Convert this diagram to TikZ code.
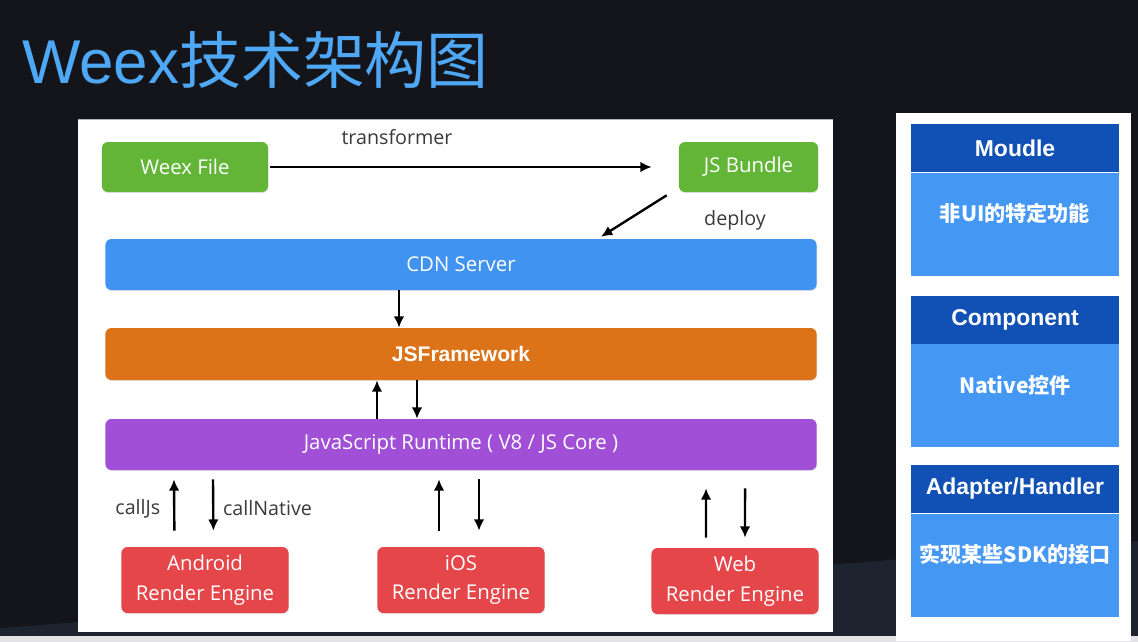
\documentclass[tikz,border=0pt]{standalone}
\usepackage{fontspec}
\setmainfont{Open Sans}
\newfontfamily\arialfont{Liberation Sans}
\newfontfamily\cjkfont{Noto Sans CJK SC}
\usepackage{tikz}
\usetikzlibrary{positioning,shadows,arrows.meta}

\definecolor{bgdark}{HTML}{13151A}
\definecolor{bglight}{HTML}{1E2330}
\definecolor{stripgray}{HTML}{E4E4E4}
\definecolor{titleblue}{HTML}{4FA8F5}
\definecolor{weexgreen}{HTML}{62B536}
\definecolor{cdnblue}{HTML}{4193F2}
\definecolor{jsforange}{HTML}{DC7318}
\definecolor{rtpurple}{HTML}{A24FD8}
\definecolor{engred}{HTML}{E4464A}
\definecolor{hdrblue}{HTML}{1150B4}
\definecolor{bodyblue}{HTML}{4597F4}
\definecolor{labelgray}{HTML}{3A3A3A}

\begin{document}
\begin{tikzpicture}[x=0.025cm, y=-0.025cm,
    box/.style={rectangle, rounded corners=0.8ex, text=white, font=\fontsize{14.5}{17}\selectfont,
                drop shadow={opacity=0.2, shadow xshift=0.3pt, shadow yshift=-0.8pt}},
    bar/.style={box, minimum width=17.775cm, minimum height=1.275cm},
    engine/.style={box, fill=engred, minimum width=4.175cm, minimum height=1.65cm, align=center,
                   font=\fontsize{14.5}{21}\selectfont},
    lbl/.style={text=labelgray, font=\fontsize{14}{16}\selectfont},
    arr/.style={-{Latex[length=8pt,width=7.5pt]}, line width=1.7pt},
    head/.style={rectangle, fill=hdrblue, text=white, minimum width=5.2cm, minimum height=1.2cm,
                 font=\arialfont\bfseries\fontsize{16.3}{19}\selectfont},
    body/.style={rectangle, fill=bodyblue, text=white, minimum width=5.2cm, inner ysep=0pt,
                 text height=1.225cm, text depth=1.35cm, font=\cjkfont\bfseries\fontsize{15}{18}\selectfont}]

    % backdrop
    \useasboundingbox (0,0) rectangle (1138,641);
    \fill[bgdark] (0,0) rectangle (1138,641);
    \fill[bglight] (0,628) -- (890,560) -- (1138,541) -- (1138,641) -- (0,641) -- cycle;
    \fill[stripgray] (0,636) rectangle (1138,641);
    \fill[white] (78,119) rectangle (833,632);
    \draw[gray!60, thin] (78,119) -- (833,119);
    \fill[white] (896,113) rectangle (1131,641);

    \node[anchor=base west, inner sep=0, text=titleblue, font=\fontsize{44}{50}\selectfont] (title) at (22,83)
        {{\arialfont Weex}{\cjkfont 技术架构图}};

    % left diagram
    \node[box, fill=weexgreen, minimum width=4.15cm, minimum height=1.25cm] (weex) at (185,167) {Weex File};
    \node[box, fill=weexgreen, minimum width=3.475cm, minimum height=1.25cm] (bundle) at (748.5,167) {JS Bundle};
    \node[bar, fill=cdnblue] (cdn) at (461,264.5) {CDN Server};
    \node[bar, fill=jsforange, minimum height=1.3cm, font=\arialfont\bfseries\fontsize{15}{18}\selectfont] (jsf) at (461,354) {JSFramework};
    \node[bar, fill=rtpurple] (runtime) at (461,444.5) {JavaScript Runtime ( V8 / JS Core )};

    \node[engine] (android) at (205,580) {Android\\Render Engine};
    \node[engine] (ios) at (461,580) {iOS\\Render Engine};
    \node[engine] (web) at (735,581) {Web\\Render Engine};

    \node[lbl] (trlabel) at (397,137) {transformer};
    \node[lbl] (deplabel) at (735,220) {deploy};

    \draw[arr, shorten <=0.05cm, shorten >=0.675cm] (weex) -- (bundle);
    \draw[arr] ([xshift=-0.3cm, yshift=-0.075cm]bundle.south west) -- ([xshift=3.5cm, yshift=0.05cm]cdn.north);
    \draw[arr] ([xshift=-1.55cm]cdn.south) -- ([xshift=-1.55cm]jsf.north);
    \draw[arr] ([xshift=-2.1cm]runtime.north) -- ([xshift=-2.1cm]jsf.south);
    \draw[arr] ([xshift=-1.1cm]jsf.south) -- ([xshift=-1.1cm]runtime.north);

    % render engines <-> runtime
    \draw[arr, shorten <=0.4cm, shorten >=0.225cm] ([xshift=-0.7625cm]android.north) -- ([xshift=-7.175cm]runtime.south)
        node[lbl, midway, left=0.2cm] {callJs};
    \draw[arr, shorten <=0.225cm, shorten >=0.4cm] ([xshift=-6.2cm]runtime.south) -- ([xshift=0.2125cm]android.north)
        node[lbl, midway, right=0.1cm] {callNative};
    \draw[arr, shorten <=0.4cm, shorten >=0.225cm] ([xshift=-0.55cm]ios.north) -- ([xshift=-0.55cm]runtime.south);
    \draw[arr, shorten <=0.225cm, shorten >=0.4cm] ([xshift=0.45cm]runtime.south) -- ([xshift=0.45cm]ios.north);
    \draw[arr, shorten <=0.25cm, shorten >=0.45cm] ([xshift=-0.725cm]web.north) -- ([xshift=6.125cm]runtime.south);
    \draw[arr, shorten <=0.45cm, shorten >=0.25cm] ([xshift=7.1cm]runtime.south) -- ([xshift=0.25cm]web.north);

    % right panel
    \node[head] (modhead) at (1015,148) {Moudle};
    \node[body, below=0pt of modhead] (modbody) {非UI的特定功能};
    \node[head] (comphead) at (1015,319.5) {Component};
    \node[body, below=0pt of comphead] (compbody) {Native控件};
    \node[head] (adahead) at (1015,489) {Adapter/Handler};
    \node[body, below=0pt of adahead] (adabody) {实现某些SDK的接口};
\end{tikzpicture}
\end{document}
